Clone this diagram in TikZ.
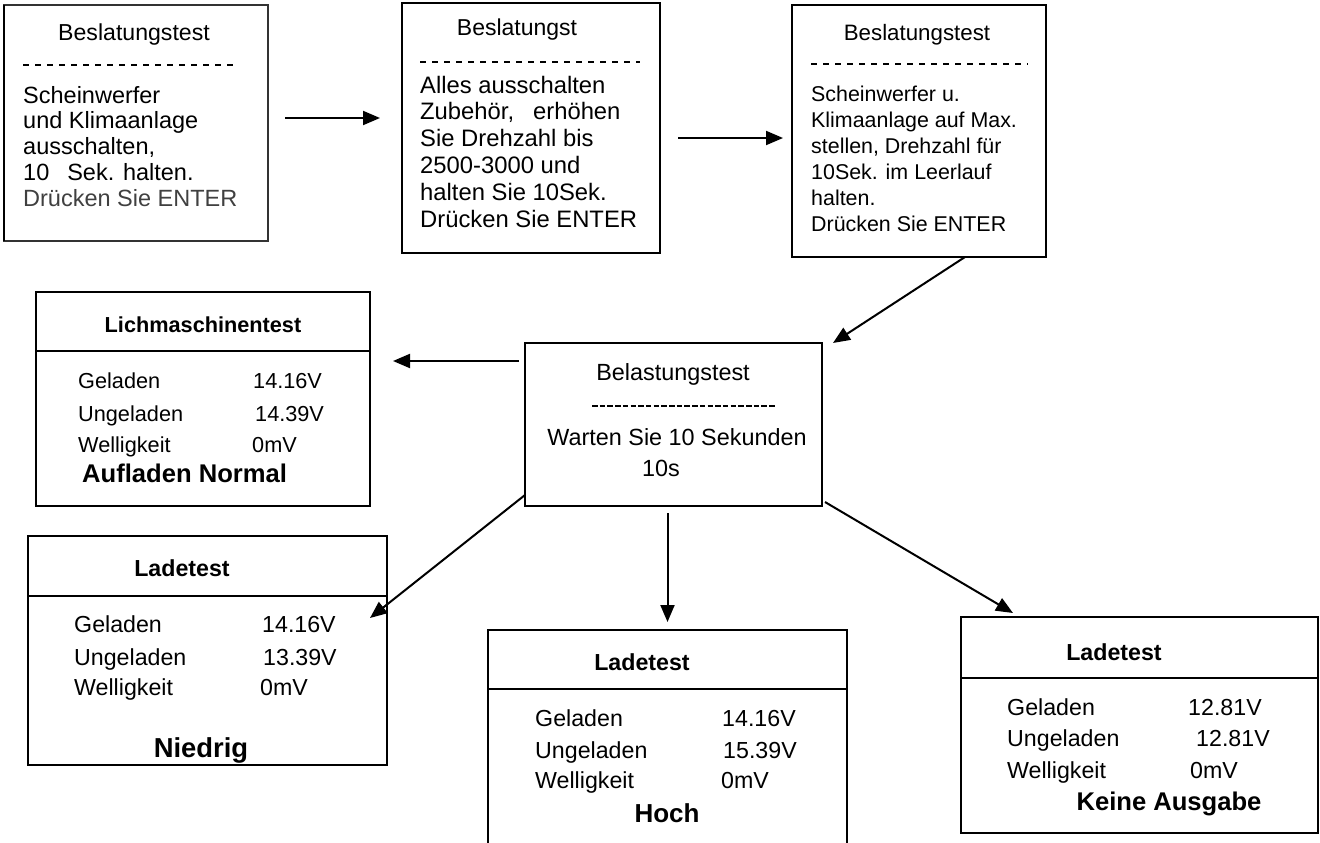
\documentclass[tikz,border=0pt]{standalone}
\usepackage{fontspec}
\setmainfont{Liberation Sans}
\usetikzlibrary{arrows.meta}
\begin{document}
\begin{tikzpicture}[x=1pt,y=-1pt,
  lt/.style={inner sep=0pt, anchor=base west, font=\fontsize{#1pt}{#1pt}\selectfont},
  ct/.style={inner sep=0pt, anchor=base, font=\fontsize{#1pt}{#1pt}\selectfont},
  cb/.style={inner sep=0pt, anchor=base, font=\fontsize{#1pt}{#1pt}\selectfont\bfseries},
  lb/.style={inner sep=0pt, anchor=base west, font=\fontsize{#1pt}{#1pt}\selectfont\bfseries},
  box/.style={draw, line width=1.6pt, inner sep=0pt, outer sep=0pt, anchor=north west},
  rbox/.style={draw, line width=2pt, inner sep=0pt, outer sep=0pt, anchor=north west},
  dline/.style={line width=1.3pt, dash pattern=on 6pt off 6pt},
  fline/.style={line width=1.2pt, dash pattern=on 5.5pt off 2.2pt},
  arr/.style={line width=2pt, -{Triangle[length=17pt,width=14pt]}}]
\fill[white] (0,0) rectangle (1320,843);
\useasboundingbox (0,0) rectangle (1320,843);

% ---------- top row ----------
\node[box, draw=black!80, minimum width=264pt, minimum height=236pt] (b1) at (4,5) {};
\draw[line width=2.4pt] (b1.north west) -- (b1.south west);
\node[ct=23.1] (b1h) at (134,41) {Beslatungstest};
\draw[dline] (23,65) -- (233,65);
\foreach \t [count=\i] in {Scheinwerfer, und Klimaanlage, {ausschalten,}, 10\hspace{18pt}Sek. halten.}
  \node[lt=23.5] (b1t\i) at (23,{103+25.8*(\i-1)}) {\t};
\node[lt=23.5, text=black!75] (b1t5) at (23,206) {Drücken Sie ENTER};

\node[box, minimum width=258pt, minimum height=250pt] (b2) at (402,3) {};
\node[ct=23] (b2h) at (517,36) {Beslatungst};
\draw[dline] (420,62) -- (640,62);
\foreach \t [count=\i] in {Alles ausschalten, {Zubehör,\hspace{19pt}erhöhen}, Sie Drehzahl bis, 2500-3000 und, halten Sie 10Sek., Drücken Sie ENTER}
  \node[lt=23.8] (b2t\i) at (420,{93+26.8*(\i-1)}) {\t};

\node[box, minimum width=254pt, minimum height=252pt] (b3) at (792,5) {};
\node[ct=22.3] (b3h) at (917,41) {Beslatungstest};
\draw[dline] (811,64) -- (1028,64);
\foreach \t [count=\i] in {Scheinwerfer u., Klimaanlage auf Max., {stellen, Drehzahl für}, 10Sek. im Leerlauf, halten., Drücken Sie ENTER}
  \node[lt=21.4] (b3t\i) at (811,{102+25.9*(\i-1)}) {\t};

% ---------- centre ----------
\node[box, minimum width=297pt, minimum height=163pt] (bc) at (525,343) {};
\node[ct=23.4] (bch) at (673,380) {Belastungstest};
\draw[fline] (592,406) -- (776,406);
\node[ct=23.4] (bct1) at (677,445) {Warten Sie 10 Sekunden};
\node[ct=23.4] (bct2) at (661,476) {10s};

% ---------- Lichmaschinentest ----------
\node[rbox, minimum width=334pt, minimum height=214pt] (bl) at (36,292) {};
\draw[line width=2pt] ([yshift=-59pt]bl.north west) -- ([yshift=-59pt]bl.north east);
\node[cb=21.7] (blh) at (203,332) {Lichmaschinentest};
\node[lt=21.7] (bl1) at (78,388) {Geladen};
\node[lt=21.7] (bl1v) at (253,388) {14.16V};
\node[lt=21.7] (bl2) at (78,421) {Ungeladen};
\node[lt=21.7] (bl2v) at (255,421) {14.39V};
\node[lt=21.7] (bl3) at (78,452) {Welligkeit};
\node[lt=21.7] (bl3v) at (252,452) {0mV};
\node[lb=25.6] (blr) at (82,482) {Aufladen Normal};

% ---------- Ladetest Niedrig ----------
\node[rbox, minimum width=359pt, minimum height=229pt] (bn) at (28,536) {};
\draw[line width=2pt] ([yshift=-60pt]bn.north west) -- ([yshift=-60pt]bn.north east);
\node[cb=23.2] (bnh) at (182,576) {Ladetest};
\node[lt=23.2] (bn1) at (74,632) {Geladen};
\node[lt=23.2] (bn1v) at (262,632) {14.16V};
\node[lt=23.2] (bn2) at (74,665) {Ungeladen};
\node[lt=23.2] (bn2v) at (263,665) {13.39V};
\node[lt=23.2] (bn3) at (74,695) {Welligkeit};
\node[lt=23.2] (bn3v) at (260,695) {0mV};
\node[cb=27.4] (bnr) at (201,757) {Niedrig};

% ---------- Ladetest Hoch ----------
\node[rbox, minimum width=359pt, minimum height=240pt] (bh) at (488,630) {};
\draw[line width=2pt] ([yshift=-59pt]bh.north west) -- ([yshift=-59pt]bh.north east);
\node[cb=23.2] (bhh) at (642,670) {Ladetest};
\node[lt=23.2] (bh1) at (535,726) {Geladen};
\node[lt=23.2] (bh1v) at (722,726) {14.16V};
\node[lt=23.2] (bh2) at (535,758) {Ungeladen};
\node[lt=23.2] (bh2v) at (723,758) {15.39V};
\node[lt=23.2] (bh3) at (535,788) {Welligkeit};
\node[lt=23.2] (bh3v) at (721,788) {0mV};
\node[cb=26] (bhr) at (667,822) {Hoch};

% ---------- Ladetest Keine Ausgabe ----------
\node[rbox, minimum width=357pt, minimum height=216pt] (bk) at (961,617) {};
\draw[line width=2pt] ([yshift=-61pt]bk.north west) -- ([yshift=-61pt]bk.north east);
\node[cb=23.2] (bkh) at (1114,660) {Ladetest};
\node[lt=23.2] (bk1) at (1007,715) {Geladen};
\node[lt=23.2] (bk1v) at (1188,715) {12.81V};
\node[lt=23.2] (bk2) at (1007,746) {Ungeladen};
\node[lt=23.2] (bk2v) at (1196,746) {12.81V};
\node[lt=23.2] (bk3) at (1007,778) {Welligkeit};
\node[lt=23.2] (bk3v) at (1190,778) {0mV};
\node[cb=25.6] (bkr) at (1169,810) {Keine Ausgabe};

% ---------- connectors ----------
\draw[arr] ([xshift=17pt,yshift=5pt]b1.east) -- ([xshift=-22pt,yshift=5pt]b1.east -| b2.west);
\draw[arr] ([xshift=18pt,yshift=-10pt]b2.east) -- ([xshift=-9pt,yshift=-10pt]b2.east -| b3.west);
\draw[arr] ([xshift=46pt]b3.south) -- ([xshift=11pt]bc.north east);
\draw[arr] ([xshift=-6pt,yshift=-18pt]bc.north west) -- ([xshift=23pt,yshift=-69pt]bl.north east);
\draw[arr] ([yshift=11pt]bc.south west) -- ([xshift=-17pt,yshift=-82pt]bn.north east);
\draw[arr] ([yshift=-7pt]bc.south -| bh.north) -- ([yshift=8pt]bh.north);
\draw[arr] ([xshift=3pt,yshift=4pt]bc.south east) -- ([xshift=52pt,yshift=4pt]bk.north west);
\end{tikzpicture}
\end{document}
